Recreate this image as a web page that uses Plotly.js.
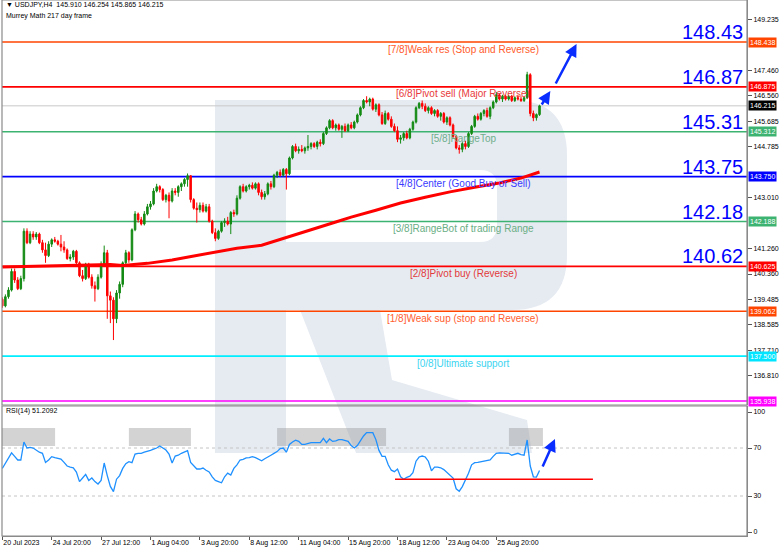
<!DOCTYPE html>
<html><head><meta charset="utf-8">
<script src="https://cdn.plot.ly/plotly-3.0.1.min.js"></script>
<style>html,body{margin:0;padding:0;background:#fff;overflow:hidden}#chart{width:782px;height:553px}</style>
</head><body><div id="chart"></div>
<script>
// ---------- DATA ----------
const headerText = '\u25BC USDJPY,H4  145.910 146.254 145.865 146.215';
const subHeader = 'Murrey Math 217 day frame';
const rsiHeader = 'RSI(14) 51.2092';

const openP = [139.48,139.25,139.57,139.80,140.45,140.15,139.85,140.20,141.85,141.45,
141.75,141.65,141.75,141.45,141.20,141.00,141.40,141.55,141.50,141.40,
141.30,141.20,140.90,140.95,141.15,140.75,140.30,140.20,140.70,140.25,
139.95,139.85,140.25,140.70,141.10,139.60,139.45,138.80,139.70,140.00,
140.75,141.10,140.85,141.90,142.45,142.25,142.10,142.45,142.70,142.80,
143.25,143.40,143.30,142.95,143.10,142.90,143.25,143.20,143.40,143.50,
143.65,143.78,142.95,142.65,142.60,142.75,142.55,142.70,142.20,141.80,
141.60,141.85,142.15,142.20,142.10,142.50,142.45,143.00,143.40,143.25,
143.40,143.45,143.35,143.50,143.20,143.05,143.15,143.50,143.40,143.80,
143.90,143.80,144.00,143.85,144.40,144.80,144.65,144.70,144.65,144.75,
144.80,144.90,144.80,144.95,144.90,145.25,145.45,145.70,145.45,145.55,
145.40,145.50,145.35,145.55,145.45,145.65,145.90,146.15,146.40,146.35,
146.45,146.10,146.25,145.90,145.60,145.95,145.75,145.50,145.35,145.05,
145.10,145.25,145.10,145.40,145.65,146.15,146.30,146.20,146.05,146.15,
145.95,146.05,145.85,145.95,145.65,145.80,145.55,145.15,144.75,144.70,
144.90,144.80,145.25,145.50,145.85,145.75,145.95,146.05,145.85,146.15,
146.35,146.60,146.45,146.55,146.45,146.55,146.40,146.50,146.45,146.40,
146.50,147.30,145.95,145.80,145.910];
const highP = [139.55,139.65,139.90,140.55,140.55,140.25,140.30,141.95,141.95,141.85,
141.85,141.82,141.80,141.55,141.45,141.50,141.60,141.65,141.55,141.72,
141.50,141.25,141.05,141.20,141.20,140.80,140.50,140.75,140.75,140.35,
140.10,140.35,140.80,141.35,141.20,139.75,139.55,139.80,140.10,140.80,
141.20,141.15,141.95,142.55,142.50,142.35,142.55,142.80,142.90,143.35,
143.50,143.45,143.35,143.15,143.20,143.35,143.35,143.45,143.55,143.70,
143.86,143.80,143.00,142.85,142.85,142.85,142.80,142.80,142.25,141.95,
141.90,142.20,142.30,142.35,142.55,142.60,143.10,143.45,143.50,143.45,
143.50,143.55,143.55,143.55,143.30,143.25,143.55,143.60,143.85,143.95,
144.00,144.05,144.05,144.45,144.85,144.90,144.80,144.85,144.80,145.20,
144.95,144.95,145.00,145.05,145.30,145.50,145.75,145.75,145.60,145.60,
145.55,145.60,145.60,145.65,145.70,145.95,146.20,146.45,146.55,146.50,
146.50,146.30,146.30,146.00,146.05,146.00,145.85,145.60,145.50,145.20,
145.30,145.35,145.45,145.70,146.20,146.35,146.40,146.30,146.20,146.20,
146.10,146.10,146.00,146.00,145.85,145.85,145.60,145.20,144.85,144.95,
145.00,145.30,145.55,145.90,145.95,146.00,146.10,146.15,146.20,146.40,
146.70,146.65,146.60,146.60,146.60,146.60,146.55,146.60,146.55,146.55,
147.40,147.35,146.05,145.95,146.254];
const lowP = [139.18,139.20,139.50,139.75,140.05,139.80,139.80,140.10,141.40,141.40,
141.55,141.55,141.40,141.10,140.75,140.95,141.30,141.45,141.35,141.15,
141.10,140.85,140.80,140.85,140.70,140.25,140.10,140.15,140.20,139.85,
139.40,139.80,140.20,140.65,138.80,138.65,138.06,138.65,139.50,139.90,
140.65,140.75,140.80,141.85,142.15,142.05,142.05,142.40,142.60,142.75,
143.20,143.20,142.90,142.85,142.30,142.85,143.10,143.05,143.25,143.40,
143.40,142.85,142.60,142.15,142.50,142.50,142.50,142.15,141.75,141.50,
141.55,141.80,142.00,142.05,141.75,142.35,142.40,142.95,143.20,143.20,
143.30,143.30,143.30,143.10,142.95,142.95,143.10,143.30,143.35,143.70,
143.75,143.75,143.30,143.80,144.35,144.60,144.55,144.60,144.55,144.65,
144.70,144.75,144.70,144.80,144.85,145.20,145.40,145.40,145.35,145.35,
145.10,145.30,145.30,145.40,145.40,145.60,145.85,146.10,146.30,146.20,
146.05,146.00,145.85,145.55,145.55,145.70,145.45,145.30,144.95,144.90,
145.00,145.05,145.05,145.35,145.60,146.10,146.10,146.00,145.95,145.90,
145.85,145.80,145.70,145.60,145.55,145.50,145.10,144.70,144.55,144.60,
144.70,144.75,145.20,145.45,145.70,145.70,145.85,145.80,145.75,146.10,
146.30,146.40,146.35,146.40,146.40,146.35,146.35,146.40,146.35,146.35,
146.45,145.85,145.68,145.70,145.865];
const closeP = [139.25,139.57,139.80,140.45,140.15,139.85,140.20,141.85,141.45,141.75,
141.65,141.75,141.45,141.20,141.00,141.40,141.55,141.50,141.40,141.30,
141.20,140.90,140.95,141.15,140.75,140.30,140.20,140.70,140.25,139.95,
139.85,140.25,140.70,141.10,139.60,139.45,138.80,139.70,140.00,140.75,
141.10,140.85,141.90,142.45,142.25,142.10,142.45,142.70,142.80,143.25,
143.40,143.30,142.95,143.10,142.90,143.25,143.20,143.40,143.50,143.65,
143.78,142.95,142.65,142.60,142.75,142.55,142.70,142.20,141.80,141.60,
141.85,142.15,142.20,142.10,142.50,142.45,143.00,143.40,143.25,143.40,
143.45,143.35,143.50,143.20,143.05,143.15,143.50,143.40,143.80,143.90,
143.80,144.00,143.85,144.40,144.80,144.65,144.70,144.65,144.75,144.80,
144.90,144.80,144.95,144.90,145.25,145.45,145.70,145.45,145.55,145.40,
145.50,145.35,145.55,145.45,145.65,145.90,146.15,146.40,146.35,146.45,
146.10,146.25,145.90,145.60,145.95,145.75,145.50,145.35,145.05,145.10,
145.25,145.10,145.40,145.65,146.15,146.30,146.20,146.05,146.15,145.95,
146.05,145.85,145.95,145.65,145.80,145.55,145.15,144.75,144.70,144.90,
144.80,145.25,145.50,145.85,145.75,145.95,146.05,145.85,146.15,146.35,
146.60,146.45,146.55,146.45,146.55,146.40,146.50,146.45,146.40,146.50,
147.30,145.95,145.80,145.91,146.215];
const rsiVals = [53,57.5,62,66,63,60,60,75,70,70.5,
70,68,66.5,65.6,58,60,62.8,62,61.5,60.8,
58,55,54,53.5,50,42,45,48,43,45,
42,40,43,57.5,47,38,33.6,44,47,53,
57,58.6,57.8,65,65.6,65.6,66.5,67,68,69,
70,71.7,70,68.3,65,57.5,63.3,64,65.6,66.5,
67.8,58,55,52.5,52.5,53.3,51.5,50,46,43,
42,41,46,49,47.5,53,56,60,60.5,61.7,
62,62.8,62,61,59.4,61,62.8,64,65.5,67,
69.5,70,66.5,73,75,76.5,75.5,73,73,74,
74.4,74.4,74.4,74.4,78,74.5,77.5,75.5,76,77,
77,76,75.5,72,70,72,76,80,82.8,82.8,
82.8,77,68,63,63,56,51.5,50.3,52.5,46,
44,45.5,46.5,49.5,59,62.5,63.3,62.5,59,51,
54,54,53.5,52,49.5,47,45,36,34,37.8,
43,49,56,57.8,58,58.6,59,59.5,60,63,
65.6,66,66,65.8,65.6,64,65,65.6,64.5,64,
76.7,55,46,45.8,51.2092];
const maIdx = [0,12,25,35,39,47,55,62,69,76,84,92,100,108,113,121,129,137,145,153,161,168,174];
const maVal = [140.60,140.63,140.67,140.69,140.66,140.73,140.85,140.98,141.13,141.26,141.36,141.62,141.90,142.17,142.34,142.58,142.83,143.03,143.22,143.38,143.53,143.70,143.91];

const tickIdx = [0,16,32,48,64,80,96,112,128,144,160];
const tickLabels = ['20 Jul 2023','24 Jul 20:00','27 Jul 12:00','1 Aug 04:00','3 Aug 20:00','8 Aug 12:00','11 Aug 04:00','15 Aug 20:00','18 Aug 12:00','23 Aug 04:00','25 Aug 20:00'];
const priceTicks = [149.235,147.460,146.560,145.685,144.785,143.010,141.260,140.360,139.485,138.585,137.710,136.810];

const mmLevels = [150.000,148.438,146.875,145.312,143.750,142.188,140.625,139.062,137.500,135.938];
const mmNames = ['[8/8]Ultimate resistance','[7/8]Weak res (Stop and Reverse)','[6/8]Pivot sell (Major Reverse)','[5/8]RangeTop','[4/8]Center (Good Buy or Sell)','[3/8]RangeBot of trading Range','[2/8]Pivot buy (Reverse)','[1/8]Weak sup (stop and Reverse)','[0/8]Ultimate support',''];
const bigLevels = [148.438,146.875,145.312,143.750,142.188,140.625];
const bidPrice = 146.215;

const rsiTicks = [100,70,30,0];
const rsiBands = [70,30];
const rsiSupportX = [127.2,191.3];
const rsiSupportY = [43.9,43.9];
const obZoneX0 = [-0.7,41.0,89.0,164.1];
const obZoneX1 = [17.1,61.1,124.3,175.1];
const obZoneY = [71.7,86.7];

const arrowFromX = [174.4,179.0];
const arrowFromY = [146.21,146.94];
const arrowToX = [177.5,186.0];
const arrowToY = [146.73,148.37];
const rsiArrowFrom = [174.8,53.3];
const rsiArrowTo = [179.0,77.5];

// ---------- STYLE ----------
const W=782,H=553,ML=2,MR=35,MT=0,MB=17;
const PW=W-ML-MR, PH=H-MT-MB;
const px = v => ((v-ML)/PW).toFixed(4);
const py = v => (1-(v-MT)/PH).toFixed(4);
const lineColors = ['#22d3f5','#ff4500','#ff0000','#3cb371','#0000ff','#3cb371','#ff0000','#ff4500','#00eeff','#ff00ff'];
const textColors = ['#3cc8f0','#ff5a2a','#e83a3a','#6fae8a','#3a3aff','#6aae84','#e23a3a','#ff5e30','#3cd4f0','#ff00ff'];
const boxColors  = ['#22d3f5','#ff4500','#ff0000','#3cb371','#0000ff','#3cb371','#ff0000','#ff4500','#00e5ff','#ff00ff'];
const FONT = 'Liberation Sans, Arial, sans-serif';

const idx = closeP.map((_, i) => i);

const traces = [
  {type:'candlestick', x: idx, open: openP, high: highP, low: lowP, close: closeP,
   xaxis:'x', yaxis:'y', whiskerwidth:0, hoverinfo:'skip',
   increasing:{line:{color:'#138a13', width:1}, fillcolor:'#138a13'},
   decreasing:{line:{color:'#ff0000', width:1}, fillcolor:'#ff0000'}},
  {type:'scatter', mode:'lines', x: maIdx, y: maVal, xaxis:'x', yaxis:'y',
   line:{color:'#ff0000', width:3}, hoverinfo:'skip'},
  {type:'scatter', mode:'lines', x: idx, y: rsiVals, xaxis:'x', yaxis:'y2',
   line:{color:'#1e90ff', width:1.3}, hoverinfo:'skip'},
  {type:'scatter', mode:'lines', x: rsiSupportX, y: rsiSupportY, xaxis:'x', yaxis:'y2',
   line:{color:'#ff0000', width:1.5}, hoverinfo:'skip'}
];

// watermark logo path (pixel -> paper)
const P = (x,y) => px(x)+','+py(y);
const logoPath = 'M'+P(215,100)+' L'+P(512,100)+' Q'+P(567,100)+' '+P(567,155)+' L'+P(567,255)+
  ' Q'+P(567,310)+' '+P(512,310)+' L'+P(380,310)+' L'+P(392,380)+' L'+P(527,420)+' L'+P(532,453)+' L'+P(356,453)+' L'+P(300,310)+
  ' L'+P(286,310)+' L'+P(286,453)+' L'+P(215,453)+' Z'+
  ' M'+P(286,170)+' L'+P(286,242)+' L'+P(480,242)+' Q'+P(497,242)+' '+P(497,225)+' L'+P(497,187)+
  ' Q'+P(497,170)+' '+P(480,170)+' Z';

const shapes = [
  {type:'path', path: logoPath, xref:'paper', yref:'paper', fillcolor:'#e6ebf2', line:{width:0}, layer:'below'}
];
mmLevels.forEach((lv,i) => shapes.push({type:'line', xref:'paper', yref:'y', x0:0, x1:1, y0:lv, y1:lv,
  line:{color:lineColors[i], width:1.6}, layer:'below'}));
shapes.push({type:'line', xref:'paper', yref:'y', x0:0, x1:1, y0:bidPrice, y1:bidPrice, line:{color:'#c8c8c8', width:1}, layer:'below'});
rsiBands.forEach(b => shapes.push({type:'line', xref:'paper', yref:'y2', x0:0, x1:1, y0:b, y1:b,
  line:{color:'#c4c4c4', width:1, dash:'dot'}, layer:'below'}));
obZoneX0.forEach((x0,i) => shapes.push({type:'rect', xref:'x', yref:'y2', x0:x0, x1:obZoneX1[i], y0:obZoneY[0], y1:obZoneY[1],
  fillcolor:'rgba(150,150,150,0.42)', line:{width:0}, layer:'below'}));
shapes.push({type:'rect', xref:'paper', yref:'y domain', x0:0, x1:1, y0:0, y1:1, line:{color:'#8a8a8a', width:1.2}, layer:'above'});
shapes.push({type:'rect', xref:'paper', yref:'y2 domain', x0:0, x1:1, y0:0, y1:1, line:{color:'#8a8a8a', width:1.2}, layer:'above'});

const annotations = [
  {xref:'paper', yref:'paper', x:0, y:1, xanchor:'left', yanchor:'top', xshift:2, yshift:1, showarrow:false,
   text: headerText, font:{family:FONT, size:7, color:'#000'}},
  {xref:'paper', yref:'paper', x:0, y:1, xanchor:'left', yanchor:'top', xshift:2, yshift:-10, showarrow:false,
   text: subHeader, font:{family:FONT, size:7, color:'#000'}},
  {xref:'paper', yref:'y2 domain', x:0, y:1, xanchor:'left', yanchor:'top', xshift:2, yshift:1, showarrow:false,
   text: rsiHeader, font:{family:FONT, size:7, color:'#000'}}
];
mmLevels.forEach((lv,i) => {
  if (mmNames[i]) annotations.push({xref:'paper', yref:'y', x:(463-ML)/PW, y:lv, yshift:-7, showarrow:false,
    xanchor:'center', yanchor:'middle', text: mmNames[i], font:{family:FONT, size:10, color:textColors[i]}});
});
bigLevels.forEach(lv => annotations.push({xref:'paper', yref:'y', x:(745-ML)/PW, y:lv, yshift:10, showarrow:false,
  xanchor:'right', yanchor:'middle', text:(Math.floor(lv*100)/100).toFixed(2), font:{family:FONT, size:20, color:'#0000ff'}}));
mmLevels.forEach((lv,i) => {
  if (lv < 149.9) annotations.push({xref:'paper', yref:'y', x:1, y:lv, xshift:1, xanchor:'left', yanchor:'middle', showarrow:false,
    text: lv.toFixed(3), bgcolor: boxColors[i], borderpad:1, font:{family:FONT, size:7, color:'#fff'}});
});
annotations.push({xref:'paper', yref:'y', x:1, y:bidPrice, xshift:1, xanchor:'left', yanchor:'middle', showarrow:false,
  text: bidPrice.toFixed(3), bgcolor:'#000', borderpad:1, font:{family:FONT, size:7, color:'#fff'}});
arrowFromX.forEach((x0,i) => annotations.push({xref:'x', yref:'y', axref:'x', ayref:'y', x:arrowToX[i], y:arrowToY[i],
  ax:x0, ay:arrowFromY[i], text:'', showarrow:true, arrowhead:2, arrowsize:1, arrowwidth:2.5, arrowcolor:'#0a2dff', standoff:0}));
annotations.push({xref:'x', yref:'y2', axref:'x', ayref:'y2', x:rsiArrowTo[0], y:rsiArrowTo[1],
  ax:rsiArrowFrom[0], ay:rsiArrowFrom[1], text:'', showarrow:true, arrowhead:2, arrowsize:1, arrowwidth:2.5, arrowcolor:'#0a2dff', standoff:0});

const yMainTop = 148.438 + 42/28.72, yMainBot = 135.938 - 4/28.72;
const layout = {
  width:W, height:H, margin:{l:ML, r:MR, t:MT, b:MB, pad:0},
  paper_bgcolor:'#fff', plot_bgcolor:'#fff', showlegend:false,
  font:{family:FONT, size:7, color:'#000'},
  xaxis:{range:[-0.097, 241.2], anchor:'y2', tickmode:'array', tickvals:tickIdx, ticktext:tickLabels,
    ticks:'outside', ticklen:3, tickcolor:'#555', ticklabelposition:'outside right', tickangle:0, automargin:false,
    showline:true, linecolor:'#8a8a8a', showgrid:false, zeroline:false,
    rangeslider:{visible:false}, tickfont:{family:FONT, size:7, color:'#000'}, fixedrange:true},
  yaxis:{domain:[1-405/PH, 1], range:[yMainBot, yMainTop], side:'right', anchor:'x', automargin:false,
    tickmode:'array', tickvals:priceTicks, ticktext:priceTicks.map(v=>v.toFixed(3)),
    ticks:'outside', ticklen:4, tickcolor:'#555', showline:true, linecolor:'#8a8a8a',
    showgrid:false, zeroline:false, tickfont:{family:FONT, size:7, color:'#000'}, fixedrange:true},
  yaxis2:{domain:[0, 130/PH], range:[-3.33, 105], side:'right', anchor:'x', automargin:false,
    tickmode:'array', tickvals:rsiTicks, ticktext:rsiTicks.map(String),
    ticks:'outside', ticklen:4, tickcolor:'#555', showline:true, linecolor:'#8a8a8a',
    showgrid:false, zeroline:false, tickfont:{family:FONT, size:7, color:'#000'}, fixedrange:true},
  shapes: shapes, annotations: annotations
};
Plotly.newPlot('chart', traces, layout, {staticPlot:true, displayModeBar:false});
</script></body></html>
